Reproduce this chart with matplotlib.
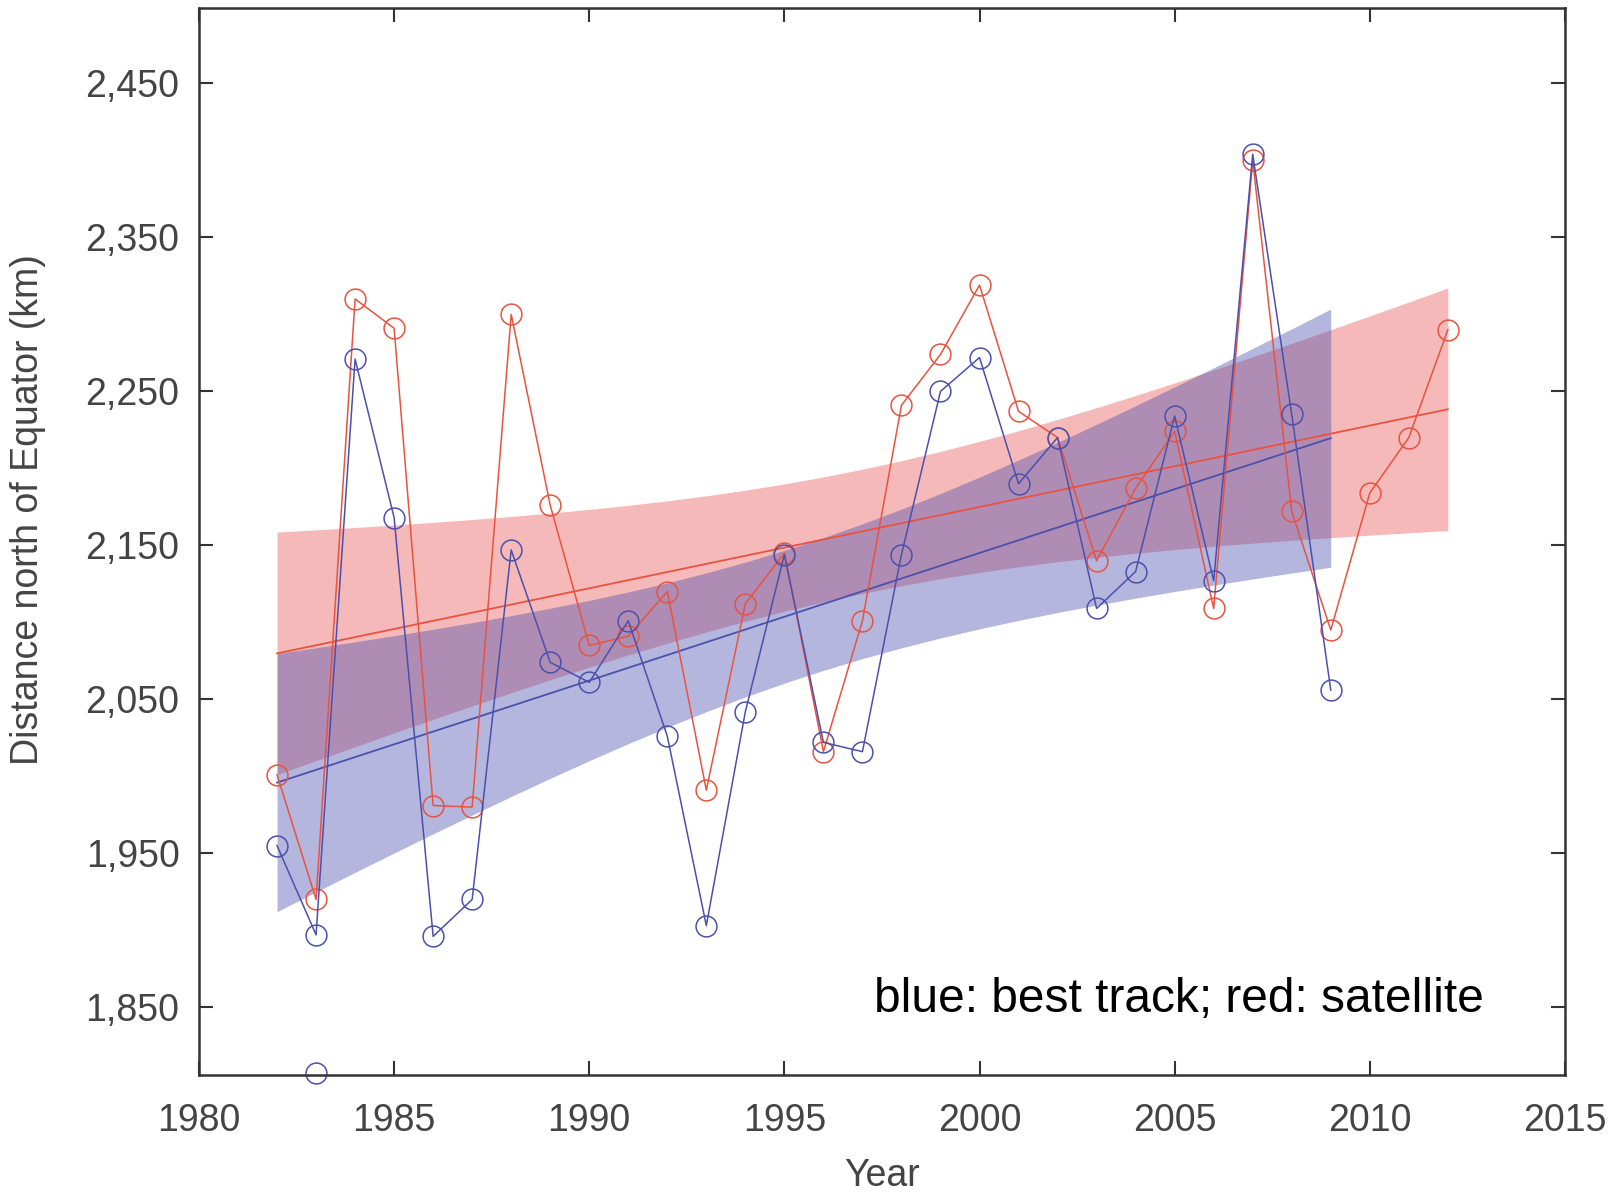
import numpy as np
import matplotlib
matplotlib.use('Agg')
import matplotlib.pyplot as plt
from matplotlib.ticker import FuncFormatter

# values (km north of the Equator)
years_best = np.arange(1982, 2010)
best_track = [1955, 1897, 2271, 2168, 1896, 1920, 2147, 2074, 2061, 2101,
              2026, 1903, 2042, 2144, 2022, 2016, 2144, 2250, 2272, 2190,
              2220, 2109, 2133, 2234, 2127, 2404, 2235, 2056]
best_outlier_year = [1983]
best_outlier = [1807]

years_sat = np.arange(1982, 2013)
satellite = [2001, 1920, 2310, 2291, 1981, 1980, 2300, 2176, 2085, 2091,
             2120, 1991, 2112, 2145, 2016, 2101, 2241, 2274, 2319, 2237,
             2220, 2140, 2187, 2224, 2109, 2400, 2172, 2095, 2184, 2220,
             2290]

x_ticks = list(range(1980, 2016, 5))
y_ticks = list(range(1850, 2451, 100))

RED = '#e8533f'
BLUE = '#4b50ad'


def fit_band(x, y, t):
    # least squares line and its confidence band
    x = np.asarray(x, float)
    y = np.asarray(y, float)
    coef = np.polyfit(x, y, 1)
    fit = np.polyval(coef, x)
    s = np.sqrt(np.sum((y - fit) ** 2) / (len(x) - 2))
    h = t * s * np.sqrt(1.0 / len(x) + (x - x.mean()) ** 2 / np.sum((x - x.mean()) ** 2))
    return fit, fit - h, fit + h


fig = plt.figure(figsize=(16.19, 11.96), dpi=100)
ax = fig.add_axes([0.1229, 0.1012, 0.8437, 0.8921])

fit_s, lo_s, hi_s = fit_band(years_sat, satellite, 2.045)
fit_b, lo_b, hi_b = fit_band(years_best, best_track, 2.056)

ax.fill_between(years_sat, lo_s, hi_s, color=(0.90, 0.22, 0.22), alpha=0.35, lw=0)
ax.fill_between(years_best, lo_b, hi_b, color=(0.27, 0.29, 0.67), alpha=0.4, lw=0)
ax.plot(years_sat, fit_s, color=RED, lw=1.3)
ax.plot(years_best, fit_b, color=BLUE, lw=1.3)

ax.plot(years_sat, satellite, color=RED, lw=1.1, marker='o', ms=15,
        mfc='none', mec=RED, mew=1.1)
ax.plot(years_best, best_track, color=BLUE, lw=1.1, marker='o', ms=15,
        mfc='none', mec=BLUE, mew=1.1)
ax.plot(best_outlier_year, best_outlier, ls='none', marker='o', ms=15,
        mfc='none', mec=BLUE, mew=1.1, clip_on=False)

ax.set_xlim(1980, 2015)
ax.set_ylim(1806, 2499)
ax.set_xticks(x_ticks)
ax.set_yticks(y_ticks)
ax.yaxis.set_major_formatter(FuncFormatter(lambda v, p: '{:,.0f}'.format(v)))

for sp in ax.spines.values():
    sp.set_color('#333333')
    sp.set_linewidth(1.8)
ax.tick_params(direction='in', length=10, width=1.5, color='#333333',
               labelsize=27, labelcolor='#444444', top=True, right=True)
ax.tick_params(axis='x', pad=20)
ax.tick_params(axis='y', pad=14)
for lab in ax.get_xticklabels() + ax.get_yticklabels():
    lab.set_family('Liberation Sans')

ax.set_xlabel('Year', fontsize=27, color='#444444', family='Liberation Sans', labelpad=14)
ax.set_ylabel('Distance north of Equator (km)', fontsize=27, color='#444444',
              family='Liberation Sans')
ax.yaxis.set_label_coords(-0.112, 0.53)

ax.text(1997.3, 1855, 'blue: best track; red: satellite', fontsize=34.5,
        family='Liberation Sans', color='black', va='center', ha='left')

fig.savefig('out.png', dpi=100)
